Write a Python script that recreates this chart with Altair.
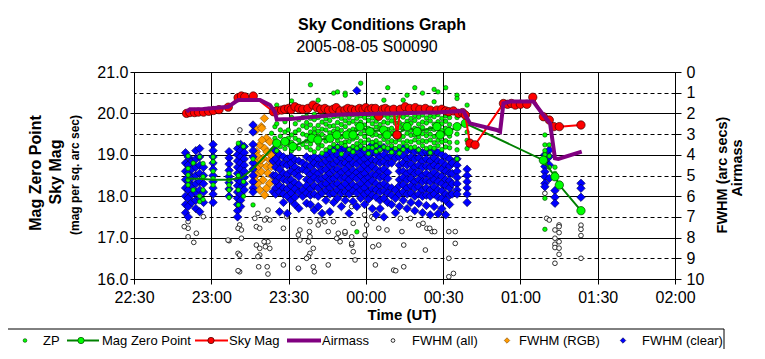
import altair as alt
import pandas as pd

FONT = "Liberation Sans"
TITLE = "Sky Conditions Graph"
SUBTITLE = "2005-08-05 S00090"

# ---------------- data ----------------
# Sky Mag (mag per sq. arc sec), left axis
sky_time = ["22:50.4", "22:51.7", "22:53.5", "22:55", "22:57", "22:59", "23:00.8", "23:03",
            "23:06.6", "23:10.4", "23:11.7", "23:13", "23:16.3", "23:24.1", "23:25.5", "23:27.3",
            "23:28.5", "23:30", "23:31", "23:32.5", "23:34", "23:35.5", "23:37.5", "23:39.5",
            "23:41", "23:42.5", "23:44.1", "23:45.5", "23:47.3", "23:48.5", "23:50", "23:51.9",
            "23:53", "23:54.5", "23:56", "23:57.5", "23:58.9", "00:00", "00:01.2", "00:02.3",
            "00:03.7", "00:05", "00:06.5", "00:07.6", "00:09", "00:10.8", "00:12.1", "00:13.4",
            "00:15.3", "00:17", "00:19.2", "00:21", "00:23.1", "00:25", "00:27.6", "00:29.5",
            "00:31", "00:32.2", "00:34", "00:36", "00:37.5", "00:38.6", "00:40.4", "00:42.4",
            "00:53.4", "00:55", "00:56.5", "00:58", "01:00", "01:02.5", "01:04.8", "01:08.9",
            "01:11.2", "01:13", "01:15.1", "01:23.5"]
sky_mag = [20.00, 20.02, 20.02, 20.03, 20.03, 20.05, 20.07, 20.09,
           20.15, 20.38, 20.42, 20.40, 20.42, 20.04, 20.06, 20.08,
           20.10, 20.12, 20.09, 20.16, 20.12, 20.10, 20.12, 20.20,
           20.14, 20.10, 20.12, 20.08, 20.10, 20.14, 20.06, 20.08,
           20.12, 20.10, 20.08, 20.12, 20.10, 20.14, 20.08, 20.12,
           20.12, 19.93, 20.10, 20.12, 20.08, 20.10, 19.48, 20.10,
           20.16, 20.12, 20.14, 20.10, 20.12, 20.08, 20.08, 20.10,
           20.06, 20.04, 20.06, 20.00, 20.02, 19.96, 19.28, 19.24,
           20.24, 20.22, 20.24, 20.20, 20.22, 20.22, 20.39, 19.92,
           19.84, 19.68, 19.68, 19.72]

# Mag Zero Point, left axis (line through all; markers visible from 23:25 on)
mzp_time = ["22:50.4", "22:55", "23:01", "23:07", "23:12", "23:16", "23:25.4", "23:28.6",
            "23:31.7", "23:39", "23:41.4", "23:46.1", "23:48.7", "23:52.6", "23:55", "23:57.7",
            "00:01.6", "00:06.9", "00:08.2", "00:12.1", "00:16", "00:19.9", "00:27.6", "00:28.8",
            "00:32.2", "00:35.4", "00:38.6", "01:08.9", "01:13.4", "01:15.1", "01:23.5"]
mzp_mag = [18.43, 18.42, 18.40, 18.40, 18.45, 18.65, 19.28, 19.32,
           19.20, 19.40, 19.36, 19.40, 19.48, 19.48, 19.48, 19.68,
           19.56, 19.60, 19.48, 19.48, 19.68, 19.56, 19.68, 19.48,
           19.56, 19.68, 19.76, 18.87, 18.47, 18.27, 17.65]
mzp_hidden = 6  # the first six markers sit under the FWHM columns

# Airmass, right axis
air_time = ["22:50.4", "22:51.7", "22:56.9", "23:06.6", "23:10.5", "23:18.9", "23:22.8", "23:24.7",
            "23:25.4", "23:30.6", "23:50", "00:09.4", "00:28.8", "00:37.8", "00:40.4", "00:50.8",
            "00:52.1", "00:53.4", "00:56", "01:05", "01:08.9", "01:11.5", "01:13.4", "01:14.7",
            "01:23.8"]
air_val = [1.92, 1.80, 1.79, 1.68, 1.35, 1.35, 1.60, 1.92,
           2.29, 2.27, 2.05, 2.00, 1.95, 1.88, 2.48, 2.80,
           2.88, 1.51, 1.43, 1.43, 2.08, 2.48, 4.17, 4.20,
           3.85]

# ZP (small green dots), left axis: time -> magnitudes
zp_cols = {
    "22:51": [18.97, 18.67, 18.51, 18.39, 18.27],
    "22:53": [18.80, 18.15],
    "22:55.5": [18.95, 18.00, 17.87],
    "22:56.8": [18.79, 18.47, 18.15, 17.92],
    "23:00.7": [18.95, 18.83, 18.60, 18.43, 18.27],
    "23:06.9": [18.55, 18.39, 18.27, 18.15, 17.97],
    "23:10.5": [19.28, 18.50, 18.15, 17.79],
    "23:12.5": [19.20, 18.35, 18.00],
    "23:16.2": [18.90, 17.79],
    "23:23.4": [19.52],
    "23:24.7": [19.68, 19.40],
    "23:25.4": [20.20, 19.75, 19.30, 19.10],
    "23:26.8": [19.60, 19.45, 19.20],
    "23:28.6": [20.05, 19.80, 19.55, 19.35, 19.15],
    "23:29.9": [19.60, 19.40, 19.25],
    "23:31.2": [20.30, 19.90, 19.48, 19.30, 19.10],
    "23:32.6": [19.75, 19.55, 19.40, 19.20],
    "23:34": [19.85, 19.60, 19.35, 19.15],
    "23:35.5": [19.90, 19.70, 19.50, 19.25],
    "23:37": [19.93, 19.78, 19.66, 19.47, 19.33, 19.18],
    "23:38.5": [20.69, 19.88, 19.72, 19.55, 19.41, 19.26, 19.12],
    "23:40": [19.98, 19.85, 19.63, 19.52, 19.38, 19.07],
    "23:41.5": [20.32, 19.90, 19.71, 19.57, 19.45, 19.27, 19.16],
    "23:43": [19.95, 19.79, 19.62, 19.49, 19.22, 19.04],
    "23:44.5": [19.87, 19.74, 19.60, 19.41, 19.33, 19.12],
    "23:46": [19.97, 19.83, 19.69, 19.53, 19.37, 19.18],
    "23:47.5": [20.49, 19.92, 19.70, 19.57, 19.44, 19.25, 19.10],
    "23:49": [20.52, 19.94, 19.78, 19.63, 19.48, 19.34, 19.19],
    "23:50.5": [19.88, 19.73, 19.59, 19.43, 19.28, 19.02],
    "23:52": [20.49, 20.44, 19.96, 19.82, 19.68, 19.50, 19.31, 19.22],
    "23:53.5": [19.90, 19.77, 19.58, 19.46, 19.32, 19.13],
    "23:55": [19.97, 19.81, 19.62, 19.47, 19.38, 19.20, 19.07],
    "23:56.5": [19.88, 19.74, 19.61, 19.42, 19.27, 19.16, 17.14],
    "23:58": [20.73, 19.94, 19.79, 19.67, 19.51, 19.33, 19.21],
    "23:59.5": [19.90, 19.72, 19.58, 19.44, 19.29, 19.14],
    "00:01": [19.97, 19.83, 19.64, 19.52, 19.36, 19.18, 19.03],
    "00:02.5": [19.89, 19.75, 19.60, 19.47, 19.30, 19.17],
    "00:04": [19.94, 19.81, 19.67, 19.49, 19.34, 19.22, 19.08],
    "00:05.5": [19.92, 19.73, 19.62, 19.45, 19.28, 19.12],
    "00:07": [20.32, 19.96, 19.79, 19.63, 19.50, 19.37, 19.19],
    "00:08.5": [20.62, 19.90, 19.77, 19.61, 19.43, 19.30, 19.16],
    "00:10": [19.96, 19.82, 19.64, 19.52, 19.34, 19.22, 19.06],
    "00:11.5": [19.89, 19.76, 19.58, 19.45, 19.31, 19.15],
    "00:13": [19.95, 19.78, 19.66, 19.49, 19.37, 19.20, 19.04],
    "00:14.5": [20.32, 19.91, 19.73, 19.62, 19.44, 19.29, 19.13],
    "00:16": [20.44, 19.97, 19.81, 19.65, 19.52, 19.33, 19.21],
    "00:17.5": [19.88, 19.76, 19.59, 19.47, 19.31, 19.17],
    "00:19": [20.62, 19.95, 19.83, 19.64, 19.48, 19.36, 19.19],
    "00:20.5": [19.91, 19.74, 19.61, 19.43, 19.30, 19.12],
    "00:22": [20.49, 19.96, 19.79, 19.66, 19.51, 19.34, 19.22],
    "00:23.5": [19.89, 19.77, 19.58, 19.46, 19.32, 19.15],
    "00:25": [19.95, 19.82, 19.63, 19.50, 19.36, 19.18, 19.05],
    "00:26.5": [20.58, 20.28, 19.92, 19.74, 19.61, 19.44, 19.29, 19.16],
    "00:28": [20.52, 19.97, 19.80, 19.67, 19.49, 19.35, 19.22],
    "00:29.5": [19.88, 19.75, 19.59, 19.46, 19.31, 19.13],
    "00:31": [20.62, 19.94, 19.81, 19.64, 19.52, 19.34, 19.19],
    "00:32.5": [19.90, 19.73, 19.61, 19.45, 19.30, 19.17],
    "00:35.4": [20.44, 20.36, 19.90, 19.70, 19.50, 19.30, 19.12, 18.90],
    "00:39.3": [20.20, 19.95, 19.75, 19.55, 19.35, 19.15],
    "01:09.5": [19.48, 19.24, 19.10, 19.00, 18.80, 17.95, 17.20],
    "01:11.2": [19.24, 18.97, 18.70],
    "01:13.4": [18.70, 18.55],
}

# FWHM (clear), right axis: time -> arc secs
clear_cols = {
    "22:50": [3.9, 4.4, 4.8, 5.2, 5.6, 6.0, 6.4, 6.8],
    "22:51": [4.1, 4.5, 4.9, 5.3, 5.7, 6.1, 6.5, 7.0],
    "22:52.5": [4.3, 4.7, 5.1, 5.5, 5.9, 6.3],
    "22:54": [3.8, 4.2, 4.6, 5.0, 5.4, 5.8, 6.2, 6.6],
    "22:55.5": [3.7, 4.1, 4.5, 4.9, 5.3, 5.7, 6.1, 6.75],
    "22:57": [4.6, 5.0, 5.4, 5.8, 6.3],
    "23:00.7": [3.5, 3.8, 4.1, 4.4, 4.7, 5.0, 5.3, 5.6, 5.9, 6.3],
    "23:06.9": [3.85, 4.15, 4.45, 4.75, 5.05, 5.35, 5.65, 6.0],
    "23:10.2": [3.7, 4.0, 4.3, 4.6, 4.9, 5.2, 5.5, 5.8, 6.1, 6.4, 6.7, 7.0],
    "23:11.4": [3.5, 3.8, 4.1, 4.4, 4.7, 5.0, 5.3, 5.6, 5.9, 6.2, 6.5],
    "23:12.8": [3.6, 3.9, 4.2, 4.5, 4.8, 5.1, 5.4, 5.7],
    "23:16.2": [2.56, 2.9, 3.5, 3.8, 4.1, 4.4, 4.7, 5.0, 5.3, 5.6, 5.8],
    "23:24": [4.3, 5.0, 5.78],
    "23:25": [3.8, 4.2, 4.6, 5.0, 5.3, 5.6, 5.9],
    "23:26.5": [4.0, 4.4, 4.7, 5.1, 5.5, 5.8, 6.75],
    "23:28": [4.1, 4.45, 4.9, 5.2, 5.6, 5.9, 6.3],
    "23:29.5": [4.2, 4.5, 4.95, 5.25, 5.65, 6.0, 6.83],
    "23:31": [4.1, 4.4, 4.8, 5.2, 5.5, 5.85, 6.2],
    "23:32.5": [4.25, 4.6, 4.9, 5.35, 5.65, 6.05, 6.4],
    "23:34": [4.3, 4.75, 5.05, 5.45, 5.8, 6.59],
    "23:35.5": [4.4, 4.7, 5.7, 6.0],
    "23:37": [4.1, 4.5, 4.8, 5.2, 5.5, 5.85, 6.34],
    "23:38.5": [4.2, 4.55, 4.95, 5.25, 5.65, 5.95, 6.4],
    "23:40": [4.1, 4.4, 4.8, 5.1, 5.5, 5.9, 6.67],
    "23:41.5": [4.2, 4.5, 4.9, 5.2, 5.6, 6.0, 6.5],
    "23:43": [4.05, 4.45, 4.75, 5.15, 5.45, 5.85, 6.83],
    "23:44.5": [4.0, 4.3, 4.7, 5.05, 5.4, 5.7, 6.2],
    "23:46": [3.8, 4.2, 4.5, 4.9, 5.2, 5.6, 5.9, 6.75],
    "23:47.5": [3.7, 4.05, 4.45, 4.75, 5.15, 5.45, 5.85, 6.3],
    "23:49": [3.65, 4.0, 4.3, 4.7, 5.0, 5.4, 5.7, 6.1],
    "23:50.5": [3.75, 4.15, 4.45, 4.85, 5.15, 5.55, 5.85, 6.5],
    "23:52": [3.7, 4.05, 4.4, 4.7, 5.1, 5.4, 5.8, 6.2],
    "23:53.5": [3.8, 4.2, 4.5, 4.9, 5.2, 5.6, 5.9, 6.83],
    "23:55": [3.7, 4.0, 4.4, 4.75, 5.05, 5.45, 5.75, 6.25],
    "23:56.5": [0.9, 3.75, 4.15, 4.45, 4.85, 5.15, 5.55, 5.85, 6.5],
    "23:58": [3.65, 4.0, 4.3, 4.7, 5.0, 5.4, 5.7, 6.1],
    "23:59.5": [3.8, 4.2, 4.5, 4.9, 5.2, 5.6, 5.9, 6.4],
    "00:01": [3.7, 4.05, 4.4, 4.7, 5.1, 5.4, 5.8, 6.15],
    "00:02.5": [3.5, 3.85, 4.25, 4.55, 4.95, 5.25, 5.65, 5.95, 6.6],
    "00:04": [3.6, 3.95, 4.3, 4.7, 5.0, 5.4, 5.7, 6.05, 6.9],
    "00:05.5": [3.7, 4.1, 4.4, 4.8, 5.1, 5.5, 5.8, 6.2, 6.6],
    "00:07": [3.65, 4.0, 4.35, 4.7, 5.05, 5.4, 5.75, 6.1, 7.0],
    "00:08.5": [3.75, 4.15, 4.45, 4.85, 5.15, 5.55, 5.85, 6.3],
    "00:10": [3.7, 4.05, 4.4, 5.6, 5.95, 6.4],
    "00:11.5": [3.8, 4.15, 5.7, 6.1, 6.8],
    "00:13": [3.75, 4.1, 4.5, 4.8, 5.2, 5.5, 5.9, 6.5],
    "00:14.5": [3.7, 4.05, 4.4, 4.8, 5.1, 5.45, 5.8, 6.2],
    "00:16": [3.8, 4.2, 4.5, 4.9, 5.2, 5.6, 5.9, 6.6],
    "00:17.5": [3.75, 4.1, 4.45, 4.8, 5.15, 5.5, 5.85, 6.3],
    "00:19": [3.85, 4.2, 4.6, 4.9, 5.3, 5.6, 6.0, 6.7],
    "00:20.5": [3.8, 4.15, 4.5, 4.85, 5.2, 5.55, 5.9, 6.35],
    "00:22": [3.9, 4.3, 4.6, 5.0, 5.3, 5.7, 6.0, 6.8],
    "00:23.5": [3.85, 4.2, 4.55, 4.9, 5.25, 5.6, 5.95, 6.45],
    "00:25": [3.9, 4.3, 4.6, 5.0, 5.3, 5.7, 6.0, 6.9],
    "00:26.5": [3.8, 4.15, 4.5, 4.85, 5.2, 5.55, 5.9, 6.5],
    "00:28": [3.9, 4.3, 4.6, 5.0, 5.3, 5.7, 6.05, 6.85],
    "00:29.5": [4.0, 4.35, 4.7, 5.05, 5.4, 5.75, 6.1, 6.6],
    "00:31": [4.1, 4.5, 4.8, 5.2, 5.5, 5.9, 6.2, 6.9],
    "00:32.5": [4.2, 4.55, 4.9, 5.25, 5.6, 5.95, 6.4],
    "00:33.5": [4.4, 4.9, 5.4, 5.9],
    "00:35.4": [4.2, 4.5, 4.8, 5.1, 5.4, 5.7, 5.9],
    "00:39.3": [4.7, 5.0, 5.3, 5.6, 5.9, 6.3],
    "01:09.5": [4.0, 4.3, 4.57, 4.82, 5.06, 5.38, 5.54],
    "01:11.2": [3.77, 4.09, 4.49, 5.14],
    "01:13.4": [5.73, 6.05, 6.34],
    "01:23.5": [5.38, 5.62, 6.05],
}

# FWHM (RGB), right axis
rgb_time = ["23:17.5", "23:19.4", "23:20.6", "23:19.6", "23:21.4", "23:22.7", "23:18.8", "23:20.7",
            "23:17.5", "23:24", "23:18.1", "23:20.1", "23:22.7", "23:16.9", "23:18.8", "23:21.4",
            "23:23.3", "23:19.4", "23:22", "23:17.5", "23:24", "23:20.1", "23:22.7", "23:18.1",
            "23:21.4", "23:18.8", "23:20.7", "23:16.9", "23:24", "23:19.7", "23:17.7", "23:23.2",
            "23:19.3", "23:21.6"]
rgb_val = [2.80, 2.64, 2.24, 2.72, 3.20, 3.37, 3.53, 3.69,
           3.85, 3.77, 4.09, 4.17, 4.25, 4.33, 4.49, 4.57,
           4.57, 4.82, 4.89, 4.98, 5.06, 5.22, 5.38, 5.38,
           5.62, 5.70, 5.94, 5.22, 4.25, 3.29, 4.64, 4.00,
           4.25, 3.86]

# FWHM (all), right axis
all_time = ["22:51", "22:51", "22:54.2", "22:51", "22:53.2", "22:49.5", "22:56.9", "23:06.9",
            "23:06.5", "23:11", "23:10.4", "23:11.7", "23:11.7", "23:11.1", "23:10.4", "23:11",
            "23:11", "23:10.4", "23:18.1", "23:16.9", "23:17.5", "23:18.8", "23:21.4", "23:22",
            "23:20.7", "23:17.5", "23:18.8", "23:21", "23:22.7", "23:18.8", "23:22", "23:20.5",
            "23:18.1", "23:21.7", "23:22", "23:18.4", "23:22.7", "23:28", "23:29.3", "23:34.4",
            "23:33.8", "23:34.4", "23:38.1", "23:38.3", "23:37.7", "23:39.6", "23:38.3", "23:37.7",
            "23:37", "23:28", "23:33.8", "23:39.6", "23:40", "23:38.3", "23:41.5", "23:42.2",
            "23:44.1", "23:47.4", "23:45.4", "23:49.3", "23:48.7", "23:51.9", "23:54.5", "23:54.5",
            "23:55.1", "23:55.8", "23:45.4", "23:59.7", "00:00.3", "00:02.3", "00:03.1", "00:05",
            "00:08.2", "00:03.7", "00:13.4", "00:14", "00:17.3", "00:20.5", "00:23.7", "00:25.7",
            "00:28.9", "00:32.2", "00:23.1", "00:14.7", "00:10.8", "00:14.7", "00:32.2", "00:32.2",
            "00:02.7", "23:55.1", "23:51.9", "23:54.5", "00:05", "00:11.6", "00:22.2", "00:24.8",
            "00:26.7", "00:34.7", "00:34.7", "00:34", "23:50", "23:54.5", "23:59.5",
            "01:09.5", "01:10.2", "01:11.2", "01:13.4", "01:13.4", "01:13.4", "01:13.4", "01:13.4",
            "01:15", "01:15", "01:15", "01:15", "01:15", "01:15",
            "01:23.5", "01:23.5", "01:23.5", "01:23.5"]
all_val = [7.23, 7.55, 7.79, 7.96, 8.23, 7.47, 6.99, 8.15,
           8.12, 7.39, 7.55, 7.63, 8.03, 2.80, 8.76, 8.84,
           9.65, 9.60, 6.83, 7.07, 7.47, 7.55, 7.07, 6.67,
           7.15, 8.36, 8.52, 8.44, 8.52, 8.84, 8.20, 8.20,
           8.92, 9.41, 9.76, 9.41, 7.15, 7.55, 6.99, 7.63,
           7.87, 8.12, 7.71, 7.96, 8.20, 8.52, 8.76, 8.92,
           9.00, 9.32, 9.48, 9.41, 9.65, 7.23, 7.39, 7.15,
           7.23, 7.23, 7.71, 7.79, 8.03, 7.79, 7.96, 8.36,
           8.68, 9.08, 9.32, 7.87, 7.39, 6.99, 7.07, 7.55,
           7.63, 9.32, 7.07, 7.71, 7.07, 7.39, 7.55, 7.71,
           6.91, 7.71, 8.60, 8.36, 9.57, 9.41, 9.89, 9.00,
           8.44, 7.31, 7.71, 8.28, 8.36, 9.60, 7.31, 7.55,
           7.71, 8.28, 7.71, 9.73, 8.20, 6.50, 6.90,
           5.86, 7.07, 7.15, 7.63, 8.03, 8.32, 8.48, 9.24,
           7.39, 7.47, 7.76, 8.20, 8.51, 8.81,
           7.40, 7.60, 7.90, 9.00]

# axis ticks
mag_ticks = [16, 17, 18, 19, 20, 21]
right_ticks = [0, 1, 2, 3, 4, 5, 6, 7, 8, 9, 10]
time_ticks = ["22:30", "23:00", "23:30", "00:00", "00:30", "01:00", "01:30", "02:00"]

legend_labels = ["ZP", "Mag Zero Point", "Sky Mag", "Airmass", "FWHM (all)", "FWHM (RGB)", "FWHM (clear)"]


# ---------------- helpers ----------------
def clock(s):
    h, m = s.split(":")
    h = int(h)
    day = 5 if h >= 12 else 6
    return pd.Timestamp(2005, 8, day, h) + pd.Timedelta(minutes=float(m))


def clock_dt(s):
    h, m = s.split(":")
    h = int(h)
    day = 5 if h >= 12 else 6
    return alt.DateTime(year=2005, month=8, date=day, hours=h, minutes=int(m))


def pairs(times, vals, name):
    return pd.DataFrame({"time": [clock(t) for t in times], name: vals})


def cols_df(cols, name):
    rows = []
    for t, vals in cols.items():
        for v in vals:
            rows.append({"time": clock(t), name: v})
    return pd.DataFrame(rows)


sky_df = pairs(sky_time, sky_mag, "mag")
mzp_df = pairs(mzp_time, mzp_mag, "mag")
mzp_mark_df = mzp_df.iloc[mzp_hidden:]
air_df = pairs(air_time, air_val, "v")
zp_df = cols_df(zp_cols, "mag")
clear_df = cols_df(clear_cols, "v")
rgb_df = pairs(rgb_time, rgb_val, "v")
all_df = pairs(all_time, all_val, "v")

W, H = 541, 207

x_axis = alt.Axis(values=[clock_dt(t) for t in time_ticks], format="%H:%M", title=None,
                  grid=True, gridColor="#000000", gridWidth=1, gridOpacity=1,
                  tickSize=5, tickColor="#000000", domainColor="#000000",
                  labelFont=FONT, labelFontSize=16, labelColor="#000000", labelPadding=5,
                  labelFlush=False, labelOverlap=False)
x_enc = alt.X("time:T", axis=x_axis,
              scale=alt.Scale(domain=[clock_dt(time_ticks[0]), clock_dt(time_ticks[-1])], nice=False))

left_scale = alt.Scale(domain=[16, 21], nice=False, zero=False)
right_scale = alt.Scale(domain=[0, 10], reverse=True, nice=False, zero=False)

left_axis = alt.Axis(orient="left", values=mag_ticks, format=".1f", title=None,
                     grid=True, gridColor="#000000", gridWidth=1, gridOpacity=1,
                     tickSize=4, tickColor="#000000", domainColor="#000000",
                     labelFont=FONT, labelFontSize=16, labelColor="#000000", labelPadding=2,
                     labelFlush=False, labelOverlap=False)
right_axis = alt.Axis(orient="right", values=right_ticks, format="d", title=None,
                      grid=True, gridColor="#000000", gridWidth=1, gridDash=[4, 3], gridOpacity=1,
                      tickSize=6, tickColor="#000000", domainColor="#000000",
                      labelFont=FONT, labelFontSize=16, labelColor="#000000", labelPadding=5,
                      labelFlush=False, labelOverlap=False)

y_left_ax = alt.Y("mag:Q", scale=left_scale, axis=left_axis)
y_left = alt.Y("mag:Q", scale=left_scale, axis=None)
y_right_ax = alt.Y("v:Q", scale=right_scale, axis=right_axis)
y_right = alt.Y("v:Q", scale=right_scale, axis=None)

white_layer = alt.Chart(all_df).mark_point(shape="circle", filled=True, fill="#FFFFFF", stroke="#000000",
                                           strokeWidth=0.8, size=22, opacity=1).encode(x=x_enc, y=y_right_ax)
rgb_layer = alt.Chart(rgb_df).mark_point(shape="diamond", filled=True, fill="#FF9900", stroke="#7a4a00",
                                         strokeWidth=0.6, size=72, opacity=1).encode(x=x_enc, y=y_right)
clear_layer = alt.Chart(clear_df).mark_point(shape="diamond", filled=True, fill="#0000FF", stroke="#000040",
                                             strokeWidth=0.6, size=72, opacity=1).encode(x=x_enc, y=y_right)
zp_layer = alt.Chart(zp_df).mark_point(shape="circle", filled=True, fill="#00FF00", stroke="#004000",
                                       strokeWidth=0.6, size=20, opacity=1).encode(x=x_enc, y=y_left_ax)
mzp_line = alt.Chart(mzp_df).mark_line(color="#008000", strokeWidth=2).encode(x=x_enc, y=y_left)
mzp_pts = alt.Chart(mzp_mark_df).mark_point(shape="circle", filled=True, fill="#00FF00", stroke="#004000",
                                            strokeWidth=0.7, size=70, opacity=1).encode(x=x_enc, y=y_left)
sky_line = alt.Chart(sky_df).mark_line(color="#FF0000", strokeWidth=2).encode(x=x_enc, y=y_left)
sky_pts = alt.Chart(sky_df).mark_point(shape="circle", filled=True, fill="#FF0000", stroke="#400000",
                                       strokeWidth=0.7, size=70, opacity=1).encode(x=x_enc, y=y_left)
air_line = alt.Chart(air_df).mark_line(color="#800080", strokeWidth=4).encode(x=x_enc, y=y_right)

one = alt.Data(values=[{}])


def txt(text, x, y, size, bold=False, angle=0, align="center", baseline="middle"):
    return alt.Chart(one).mark_text(text=text, font=FONT, fontSize=size,
                                    fontWeight="bold" if bold else "normal",
                                    angle=angle, align=align, baseline=baseline,
                                    color="#000000").encode(x=alt.value(x), y=alt.value(y))


texts = [
    txt(TITLE, 248, -42, 16, bold=True, baseline="alphabetic"),
    txt(SUBTITLE, 233, -20, 16, baseline="alphabetic"),
    txt("Mag Zero Point", -98, 101, 16, bold=True, angle=270),
    txt("Sky Mag", -78, 100, 16, bold=True, angle=270),
    txt("(mag per sq. arc sec)", -59, 103, 12, bold=True, angle=270),
    txt("FWHM (arc secs)", 589, 103, 14.5, bold=True, angle=270),
    txt("Airmass", 604, 96, 14.5, bold=True, angle=270),
    txt("Time (UT)", 268, 243, 15, bold=True),
]

# legend (manual, below the plot)
LY = 268.5
legend = [
    alt.Chart(one).mark_rect(fill="#FFFFFF", stroke="#000000", strokeWidth=1).encode(
        x=alt.value(-130), x2=alt.value(590), y=alt.value(257), y2=alt.value(280)),
    alt.Chart(one).mark_point(shape="circle", filled=True, fill="#00FF00", stroke="#004000",
                              strokeWidth=0.6, size=14, opacity=1).encode(x=alt.value(-109), y=alt.value(LY)),
    alt.Chart(one).mark_rule(color="#008000", strokeWidth=2).encode(
        x=alt.value(-67), x2=alt.value(-35), y=alt.value(LY)),
    alt.Chart(one).mark_point(shape="circle", filled=True, fill="#00FF00", stroke="#004000",
                              strokeWidth=0.7, size=40, opacity=1).encode(x=alt.value(-53), y=alt.value(LY)),
    alt.Chart(one).mark_rule(color="#FF0000", strokeWidth=2).encode(
        x=alt.value(61), x2=alt.value(94), y=alt.value(LY)),
    alt.Chart(one).mark_point(shape="circle", filled=True, fill="#FF0000", stroke="#400000",
                              strokeWidth=0.7, size=40, opacity=1).encode(x=alt.value(77), y=alt.value(LY)),
    alt.Chart(one).mark_rule(color="#800080", strokeWidth=4).encode(
        x=alt.value(153), x2=alt.value(187), y=alt.value(LY)),
    alt.Chart(one).mark_point(shape="circle", filled=True, fill="#FFFFFF", stroke="#000000",
                              strokeWidth=0.8, size=14, opacity=1).encode(x=alt.value(259), y=alt.value(LY)),
    alt.Chart(one).mark_point(shape="diamond", filled=True, fill="#FF9900", stroke="#7a4a00",
                              strokeWidth=0.6, size=30, opacity=1).encode(x=alt.value(373), y=alt.value(LY)),
    alt.Chart(one).mark_point(shape="diamond", filled=True, fill="#0000FF", stroke="#000040",
                              strokeWidth=0.6, size=30, opacity=1).encode(x=alt.value(489), y=alt.value(LY)),
]
for lab, lx in zip(legend_labels, [-91, -32, 95, 188, 278, 385, 508]):
    legend.append(txt(lab, lx, LY, 13, align="left"))

chart = alt.layer(
    white_layer, rgb_layer, clear_layer, zp_layer, mzp_line, mzp_pts, sky_line, sky_pts, air_line,
    *texts, *legend
).resolve_scale(y="independent").properties(
    width=W, height=H,
    autosize=alt.AutoSizeParams(type="none"),
    padding={"left": 126, "top": 64, "right": 80, "bottom": 70},
).configure_view(fill="#C0C0C0", stroke="#808080", strokeWidth=1).configure(background="#FFFFFF")

chart.save("out.html", embed_options={"renderer": "svg", "actions": False})
